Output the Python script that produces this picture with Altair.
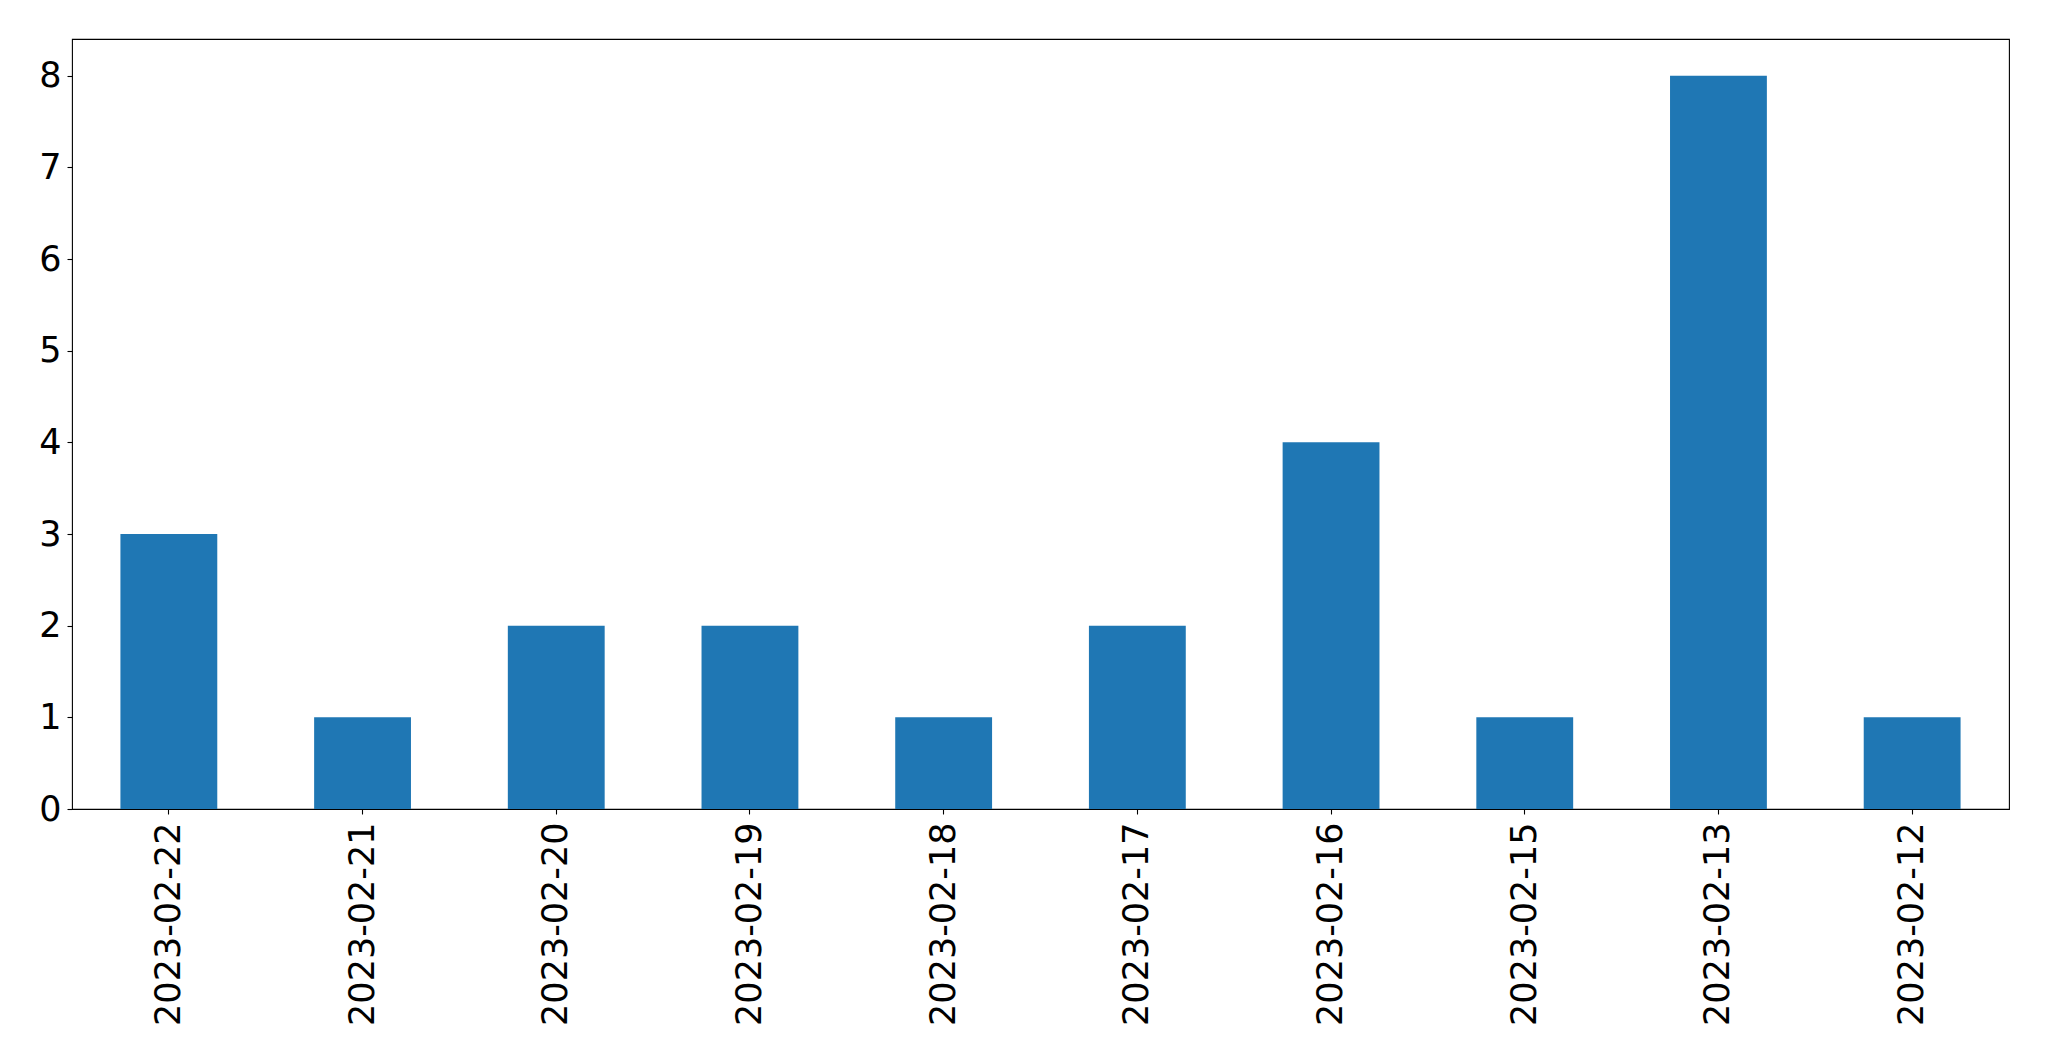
import altair as alt
import pandas as pd

dates = ["2023-02-22", "2023-02-21", "2023-02-20", "2023-02-19", "2023-02-18",
         "2023-02-17", "2023-02-16", "2023-02-15", "2023-02-13", "2023-02-12"]
counts = [3, 1, 2, 2, 1, 2, 4, 1, 8, 1]
y_ticks = [0, 1, 2, 3, 4, 5, 6, 7, 8]

df = pd.DataFrame({"date": dates, "count": counts})

chart = alt.Chart(df).mark_bar(color="#1f77b4").encode(
    x=alt.X("date:N", sort=dates, title=None,
            scale=alt.Scale(paddingInner=0.5, paddingOuter=0.25),
            axis=alt.Axis(labelAngle=-90, labelFontSize=35, labelFont="DejaVu Sans",
                          labelColor="black", tickColor="black", tickSize=5,
                          tickWidth=1.1, labelPadding=8, domain=False, labelLimit=0)),
    y=alt.Y("count:Q", title=None,
            scale=alt.Scale(domain=[0, 8.4], nice=False, zero=True),
            axis=alt.Axis(values=y_ticks, labelFontSize=35, labelFont="DejaVu Sans",
                          labelColor="black", tickColor="black", tickSize=5,
                          tickWidth=1.1, labelPadding=6, grid=False, domain=False)),
).properties(
    width=1937, height=770,
    autosize=alt.AutoSizeParams(type="none"),
    padding={"left": 64, "top": 31, "right": 20, "bottom": 230},
).configure_view(
    stroke="black", strokeWidth=1.1
)

chart.save("out.html", embed_options={"renderer": "svg", "actions": False})
